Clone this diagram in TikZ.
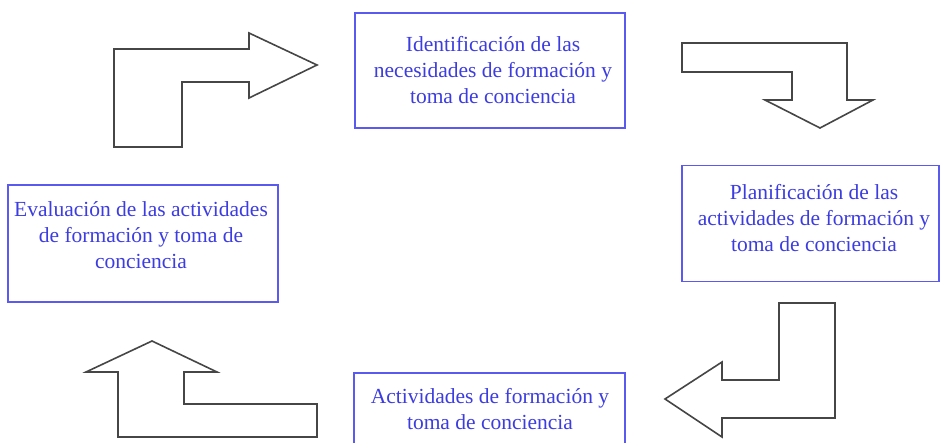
\documentclass[tikz,border=0pt]{standalone}
\usepackage{fontspec}
\setmainfont{Liberation Serif}
\definecolor{boxblue}{RGB}{90,90,240}
\definecolor{txtblue}{RGB}{60,60,225}
\definecolor{arrowgray}{RGB}{70,70,70}
\begin{document}
\begin{tikzpicture}[x=1pt,y=-1pt,
  frame/.style={draw=boxblue, line width=1.6pt, inner sep=0pt},
  txt/.style={text=txtblue, align=center, inner sep=0pt, font=\fontsize{21.5}{26}\selectfont},
  blockarrow/.style={draw=arrowgray, line width=1.6pt, line join=miter, fill=white}]
\useasboundingbox (0,0) rectangle (940,443);
\begin{scope}
\clip (0,0) rectangle (940,443);
% boxes
\node[frame, minimum width=270pt, minimum height=115pt] (b1) at (490,70.5) {};
\node[frame, minimum width=257pt, minimum height=116pt] (b2) at (810.5,223.5) {};
\node[frame, minimum width=270pt, minimum height=117pt] (b3) at (143,243.5) {};
\node[frame, minimum width=271pt, minimum height=116pt] (b4) at (489.5,431) {};
% texts
\node[txt] (t1) at (493,70.5) {Identificación de las\\necesidades de formación y\\toma de conciencia};
\node[txt] (t2) at (814,218) {Planificación de las\\actividades de formación y\\toma de conciencia};
\node[txt] (t3) at (141,235.5) {Evaluación de las actividades\\de formación y toma de\\conciencia};
\node[txt] (t4) at (490,409.5) {Actividades de formación y\\toma de conciencia};
% block arrows
\draw[blockarrow] (114,147) -- (114,49) -- (249,49) -- (249,33) -- (317,65) -- (249,98) -- (249,82) -- (182,82) -- (182,147) -- cycle;
\draw[blockarrow] (682,43) -- (847,43) -- (847,100) -- (873,100) -- (820,128) -- (765,100) -- (792,100) -- (792,72) -- (682,72) -- cycle;
\draw[blockarrow] (835,303) -- (835,418) -- (722,418) -- (722,437) -- (665,399) -- (722,362) -- (722,380) -- (779,380) -- (779,303) -- cycle;
\draw[blockarrow] (152,341) -- (217,372) -- (184,372) -- (184,404) -- (317,404) -- (317,437) -- (118,437) -- (118,372) -- (86,372) -- cycle;
\end{scope}
\end{tikzpicture}
\end{document}
